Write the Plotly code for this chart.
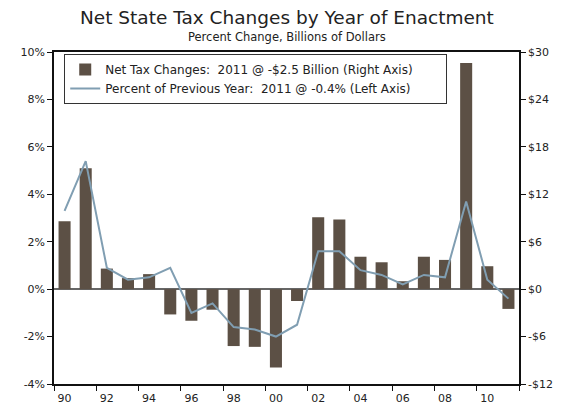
import plotly.graph_objects as go

years = list(range(1990, 2012))
net_tax_changes = [8.6, 15.3, 2.6, 1.4, 1.9, -3.2, -4.0, -2.6, -7.2, -7.3, -9.9, -1.5,
                   9.1, 8.8, 4.1, 3.4, 1.0, 4.1, 3.7, 28.6, 2.9, -2.5]
pct_prev_year = [3.3, 5.4, 0.9, 0.4, 0.5, 0.9, -1.0, -0.6, -1.6, -1.7, -2.0, -1.5,
                 1.6, 1.6, 0.8, 0.6, 0.2, 0.6, 0.5, 3.7, 0.4, -0.4]

x_tickvals = [1990, 1992, 1994, 1996, 1998, 2000, 2002, 2004, 2006, 2008, 2010]
x_ticktext = ["90", "92", "94", "96", "98", "00", "02", "04", "06", "08", "10"]
left_tickvals = [-4, -2, 0, 2, 4, 6, 8, 10]
left_ticktext = ["-4%", "-2%", "0%", "2%", "4%", "6%", "8%", "10%"]
right_tickvals = [-12, -6, 0, 6, 12, 18, 24, 30]
right_ticktext = ["-$12", "-$6", "$0", "$6", "$12", "$18", "$24", "$30"]

BAR = "#5C5045"
LINE = "#809EB2"
FONT = "DejaVu Sans"
TXT = "#222222"
AX = "#111111"
PAD = '<span style="color:rgba(0,0,0,0)">xxxx</span>'

fig = go.Figure()
fig.add_trace(go.Bar(
    x=years, y=net_tax_changes, yaxis="y", marker_color=BAR, marker_line_width=0,
    name="Net Tax Changes:  2011 @ -$2.5 Billion (Right Axis)" + PAD, width=0.57,
))
fig.add_trace(go.Scatter(
    x=years, y=pct_prev_year, yaxis="y2", mode="lines",
    line=dict(color=LINE, width=2),
    name="Percent of Previous Year:  2011 @ -0.4% (Left Axis)",
))

# page body has an 8px default margin: figure is offset by 8px in the window
fig.update_layout(
    width=561, height=400,
    margin=dict(l=46, r=50, t=44, b=24),
    paper_bgcolor="white", plot_bgcolor="white",
    font=dict(family=FONT, size=11, color=TXT),
    showlegend=True,
    legend=dict(
        x=0.022, y=0.994, xanchor="left", yanchor="top",
        bordercolor="#333333", borderwidth=1, bgcolor="white",
        font=dict(family=FONT, size=12, color=TXT),
        traceorder="normal", tracegroupgap=0, itemwidth=30,
    ),
    xaxis=dict(
        range=[1989.5, 2011.5], tickmode="array", tickvals=x_tickvals, ticktext=x_ticktext,
        ticks="outside", ticklen=3, tickcolor="rgba(0,0,0,0)",
        showgrid=False, zeroline=False, automargin=False,
        showline=True, linecolor=AX, linewidth=1.5, mirror=True,
        tickfont=dict(family=FONT, size=11, color=TXT),
        minor=dict(tickmode="linear", tick0=1989.5, dtick=2, ticks="outside",
                   ticklen=5, tickcolor=AX, tickwidth=1, showgrid=False),
    ),
    yaxis=dict(
        range=[-12, 30], side="right", tickmode="array",
        tickvals=right_tickvals, ticktext=right_ticktext, automargin=False,
        ticks="outside", ticklen=5, tickcolor=AX, showgrid=False,
        zeroline=True, zerolinecolor="#666666", zerolinewidth=1.5,
        showline=True, linecolor=AX, linewidth=1.5,
        tickfont=dict(family=FONT, size=11, color=TXT),
    ),
    yaxis2=dict(
        range=[-4, 10], overlaying="y", side="left", tickmode="array",
        tickvals=left_tickvals, ticktext=left_ticktext, automargin=False,
        ticks="outside", ticklen=5, tickcolor=AX, showgrid=False, zeroline=False,
        showline=True, linecolor=AX, linewidth=1.5,
        tickfont=dict(family=FONT, size=11, color=TXT),
    ),
    annotations=[
        dict(text="Net State Tax Changes by Year of Enactment", x=0.5, y=1, xref="paper",
             yref="paper", xanchor="center", yanchor="middle", yshift=35, showarrow=False,
             font=dict(family=FONT, size=18.5, color=TXT)),
        dict(text="Percent Change, Billions of Dollars", x=0.5, y=1, xref="paper",
             yref="paper", xanchor="center", yanchor="middle", yshift=15, showarrow=False,
             font=dict(family=FONT, size=11.5, color=TXT)),
    ],
)

fig.write_html("out.html")
